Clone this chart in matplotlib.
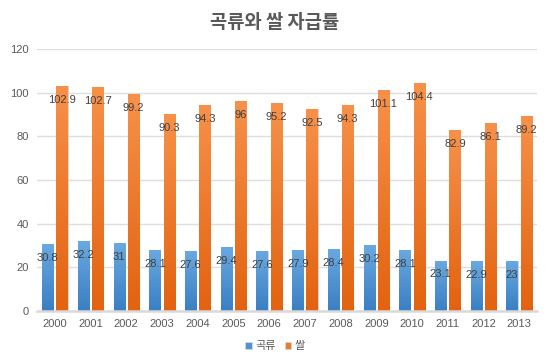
import matplotlib
matplotlib.use("Agg")
import matplotlib.pyplot as plt
from matplotlib.colors import LinearSegmentedColormap
import numpy as np

plt.rcParams['font.family'] = ['Noto Sans CJK KR', 'DejaVu Sans']

years = ['2000', '2001', '2002', '2003', '2004', '2005', '2006',
         '2007', '2008', '2009', '2010', '2011', '2012', '2013']
grain = [30.8, 32.2, 31, 28.1, 27.6, 29.4, 27.6, 27.9, 28.4, 30.2, 28.1, 23.1, 22.9, 23]
rice = [102.9, 102.7, 99.2, 90.3, 94.3, 96, 95.2, 92.5, 94.3, 101.1, 104.4, 82.9, 86.1, 89.2]
series_names = ['곡류', '쌀']
title = '곡류와 쌀 자급률'

blue_map = LinearSegmentedColormap.from_list('b', ['#3a7fc4', '#6aa9e0'])
orange_map = LinearSegmentedColormap.from_list('o', ['#e2620f', '#f7914a'])

fig = plt.figure(figsize=(5.5, 3.56), dpi=100)
ax = fig.add_axes([37/550, 1-311/356, 500/550, 262/356])

x = np.arange(len(years))
w = 0.31
grad = np.linspace(0, 1, 256).reshape(-1, 1)


def gradient_bars(xs, vals, cmap, base_color):
    bars = ax.bar(xs, vals, w, color=base_color, edgecolor='#d8d8d8', linewidth=0.6, zorder=2)
    for b in bars:
        im = ax.imshow(grad, cmap=cmap, origin='lower', aspect='auto',
                       extent=[b.get_x(), b.get_x() + b.get_width(), 0, b.get_height()],
                       zorder=2.5)
        im.set_clip_path(b)
    for xi, v in zip(xs, vals):
        ax.annotate('{:g}'.format(v), (xi, v), xytext=(0, -10), textcoords='offset points',
                    ha='center', va='center', fontsize=8, color='#404040', zorder=4,
                    family=['Liberation Sans', 'DejaVu Sans'])
    return bars


b1 = gradient_bars(x - 0.2, grain, blue_map, '#4f93d4')
b2 = gradient_bars(x + 0.2, rice, orange_map, '#ed7a2a')

ax.set_xlim(-0.5, len(years) - 0.5)
ax.set_ylim(0, 120)
ax.set_yticks(range(0, 121, 20))
ax.set_xticks(x)
ax.set_xticklabels(years)
ax.grid(axis='y', color='#dedede', linewidth=1, zorder=0)
ax.set_axisbelow(True)
for s in ['top', 'right', 'left']:
    ax.spines[s].set_visible(False)
ax.spines['bottom'].set_color('#d9d9d9')
ax.spines['bottom'].set_linewidth(1.8)
ax.tick_params(length=0, labelsize=8, colors='#595959', pad=6)
for lbl in ax.get_xticklabels() + ax.get_yticklabels():
    lbl.set_family(['Liberation Sans', 'DejaVu Sans'])

fig.text(0.5, 1 - 22/356, title, ha='center', va='center', fontsize=13.5,
         fontweight='bold', color='#595959')

fig.legend([b1, b2], series_names, loc='center', bbox_to_anchor=(0.5, 1 - 346/356),
           ncol=2, frameon=False, fontsize=8, handlelength=0.6, handleheight=0.6,
           handletextpad=0.3, columnspacing=0.8, labelcolor='#595959')

fig.savefig('out.png', dpi=100)
